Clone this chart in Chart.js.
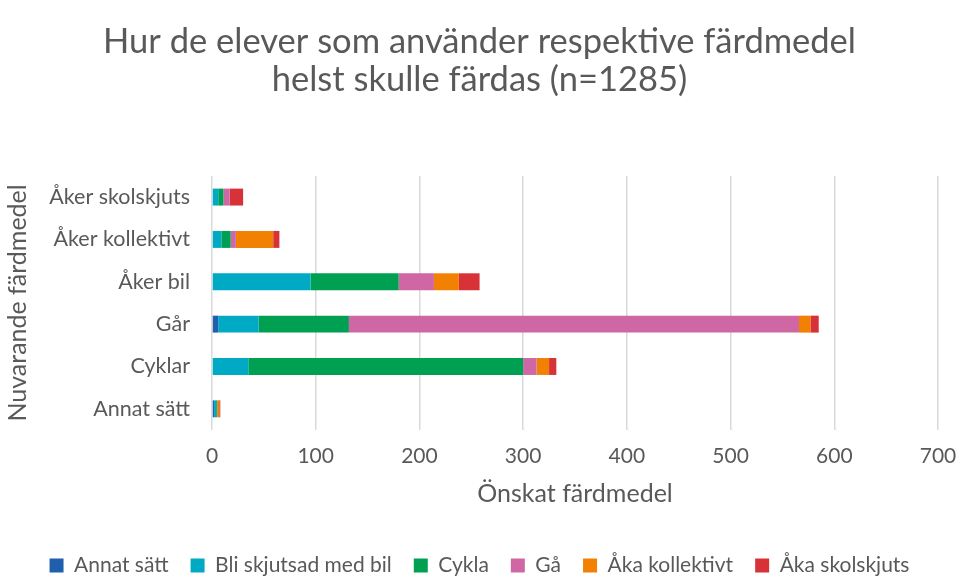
<!DOCTYPE html>
<html lang="sv">
<head>
<meta charset="utf-8">
<title>Önskat färdmedel</title>
<script src="https://cdn.jsdelivr.net/npm/chart.js@4/dist/chart.umd.min.js"></script>
<style>
  html, body { margin: 0; padding: 0; background: #fff; }
  #wrap { width: 959px; height: 577px; }
</style>
</head>
<body>
<div id="wrap"><canvas id="chart" width="959" height="577"></canvas></div>
<script>
/* Nuvarande vs önskat färdmedel — stacked horizontal bars */

// current mode (y categories), bottom to top like the Excel original
const CATEGORIES = ["Annat sätt", "Cyklar", "Går", "Åker bil", "Åker kollektivt", "Åker skolskjuts"];

// wished mode (series), one value per category above
const ANNAT_SATT = [2, 0, 6, 0, 0, 0];
const BLI_SKJUTSAD = [2, 35, 39, 95, 9, 6];
const CYKLA = [1, 265, 87, 85, 9, 5];
const GA = [0, 13, 434, 34, 5, 6];
const AKA_KOLLEKTIVT = [2, 12, 11, 24, 36, 0];
const AKA_SKOLSKJUTS = [1, 7, 8, 20, 6, 13];

const X_TICKS = [0, 100, 200, 300, 400, 500, 600, 700];

const FONT = "Lato, 'Open Sans', sans-serif";
const TEXT = "#595959";

const series = [
  { label: "Annat sätt", data: ANNAT_SATT, color: "#1F5FAD" },
  { label: "Bli skjutsad med bil", data: BLI_SKJUTSAD, color: "#00AAC4" },
  { label: "Cykla", data: CYKLA, color: "#00A052" },
  { label: "Gå", data: GA, color: "#CE67A4" },
  { label: "Åka kollektivt", data: AKA_KOLLEKTIVT, color: "#F28003" },
  { label: "Åka skolskjuts", data: AKA_SKOLSKJUTS, color: "#D63237" },
];

new Chart(document.getElementById("chart"), {
  type: "bar",
  data: {
    labels: CATEGORIES,
    datasets: series.map((s) => ({
      label: s.label,
      data: s.data,
      backgroundColor: s.color,
      borderWidth: 0,
      barPercentage: 0.4,
      categoryPercentage: 1,
    })),
  },
  options: {
    indexAxis: "y",
    responsive: false,
    animation: false,
    layout: { padding: { left: 0, right: 0, top: 0, bottom: -9 } },
    plugins: {
      tooltip: { enabled: false },
      title: {
        display: true,
        text: ["Hur de elever som använder respektive färdmedel", "helst skulle färdas (n=1285)"],
        color: TEXT,
        font: { family: FONT, size: 34.5, weight: "normal", lineHeight: 1.1 },
        padding: { top: 23, bottom: 77 },
      },
      legend: {
        position: "bottom",
        labels: {
          color: TEXT,
          font: { family: FONT, size: 21 },
          boxWidth: 14,
          boxHeight: 14,
          padding: 22,
        },
      },
    },
    scales: {
      x: {
        stacked: true,
        min: 0,
        max: 700,
        afterBuildTicks: (s) => { s.ticks = X_TICKS.map((v) => ({ value: v })); },
        // keep the plot's right edge at the 700 gridline of the original
        afterFit: (s) => { s.height = 103; s.paddingLeft = 0; s.paddingRight = 21; },
        grid: { color: "#d9d9d9", lineWidth: 1.5, drawTicks: false },
        border: { display: false },
        ticks: { color: TEXT, font: { family: FONT, size: 21 }, padding: 14 },
        title: {
          display: true,
          text: "Önskat färdmedel",
          color: TEXT,
          font: { family: FONT, size: 25 },
          padding: { top: 10, bottom: 24 },
        },
      },
      y: {
        stacked: true,
        reverse: true,
        grid: { display: false, drawTicks: false },
        border: { display: false },
        afterFit: (s) => { s.width = 212; },
        ticks: { color: TEXT, font: { family: FONT, size: 21.5 }, padding: 22 },
        title: {
          display: true,
          text: "Nuvarande färdmedel",
          color: TEXT,
          font: { family: FONT, size: 25 },
          padding: { top: 3, bottom: 0 },
        },
      },
    },
  },
});
</script>
</body>
</html>
